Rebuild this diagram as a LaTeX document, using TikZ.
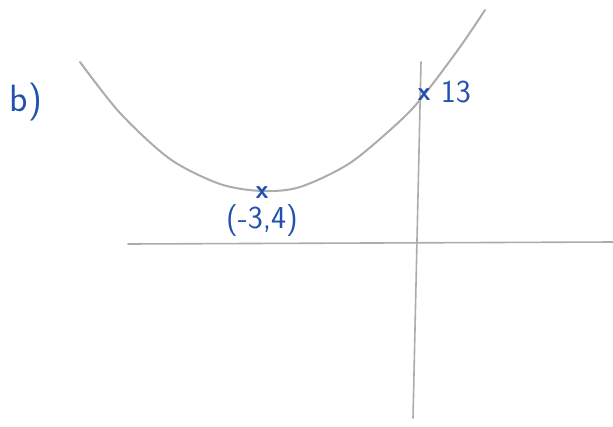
\documentclass[tikz,border=0pt]{standalone}
\usepackage{tikz}
\usetikzlibrary{positioning}

\definecolor{pencil}{RGB}{172,172,168}
\definecolor{ink}{RGB}{35,80,175}

\tikzset{
  sketch/.style={draw=pencil, line width=2pt, line cap=round},
  pen/.style={text=ink, font=\fontsize{32}{34}\selectfont\sffamily, inner sep=0pt},
  cross/.style={text=ink, font=\fontsize{26}{28}\selectfont\sffamily\bfseries, inner sep=0pt}
}

\begin{document}
\begin{tikzpicture}[x=1pt, y=-1pt]
  \useasboundingbox (0,0) rectangle (613,426);

  % axes
  \coordinate (xstart) at (128,244);
  \coordinate (xend) at (613,242);
  \coordinate (ytop) at (421,62);
  \coordinate (ybot) at (413,418);
  \draw[sketch, line width=1.6pt] (xstart) -- (xend);
  \draw[sketch, line width=1.6pt] (ytop) -- (ybot);

  % curve
  \draw[sketch] plot[smooth] coordinates {(80,62) (120,113) (170,159) (220,184)
    (262,191) (300,187) (350,163) (400,121) (424,95) (460,47) (485,10)};

  % points and labels
  \node (part) [pen, font=\fontsize{38}{40}\selectfont\sffamily] at (26,102) {b)};
  \node (vertex) [cross] at (262,193) {x};
  \node (vlabel) [pen, below=5pt of vertex] {(-3,4)};
  \node (yint) [cross] at (424,95) {x};
  \node (ylabel) [pen, right=10pt of yint, yshift=3pt] {13};
\end{tikzpicture}
\end{document}
